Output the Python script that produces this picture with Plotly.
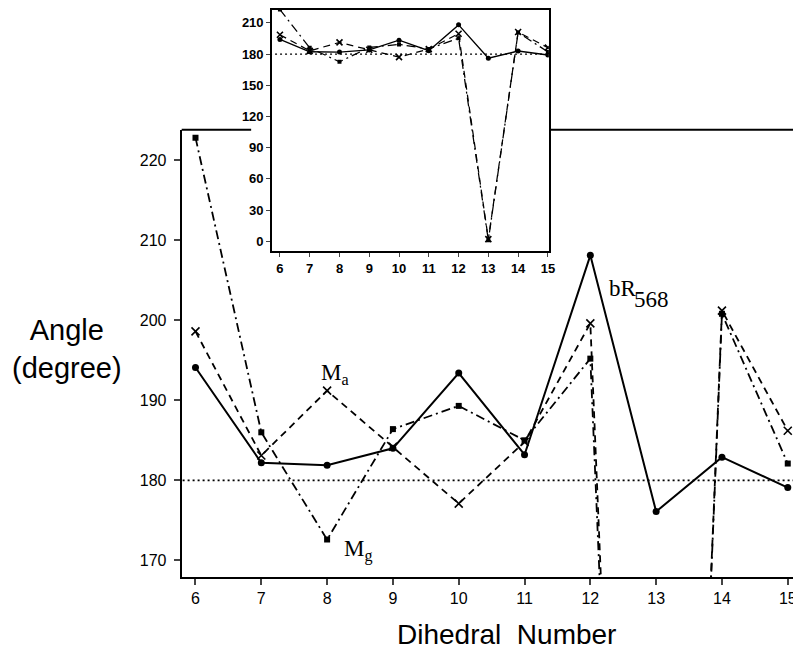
import plotly.graph_objects as go

# page body has an 8px default margin, so the figure is sized to fit the window
OFF = 8
W, H = 801 - OFF, 656 - OFF

dihedral = [6, 7, 8, 9, 10, 11, 12, 13, 14, 15]
bR568 = [194.1, 182.2, 181.9, 184.0, 193.4, 183.2, 208.1, 176.1, 182.9, 179.1]
Ma = [198.6, 183.1, 191.2, 184.2, 177.1, 184.8, 199.6, 2.0, 201.2, 186.2]
Mg = [222.8, 186.0, 172.6, 186.4, 189.3, 185.0, 195.2, 1.0, 200.8, 182.1]
reference = 180

main_yticks = [170, 180, 190, 200, 210, 220]
inset_yticks = [0, 30, 60, 90, 120, 150, 180, 210]

def px_x(p):
    return (p - OFF) / W

def px_y(p):
    return 1 - (p - OFF) / H

fig = go.Figure()

def add_series(xa, ya, lw, ms):
    fig.add_trace(go.Scatter(x=dihedral, y=bR568, mode="lines+markers", xaxis=xa, yaxis=ya,
                             line=dict(color="black", width=lw),
                             marker=dict(symbol="circle", size=ms, color="black"),
                             showlegend=False, cliponaxis=True))
    fig.add_trace(go.Scatter(x=dihedral, y=Ma, mode="lines+markers", xaxis=xa, yaxis=ya,
                             line=dict(color="black", width=lw * 0.9, dash="7px,5px"),
                             marker=dict(symbol="x-thin", size=ms + 1,
                                         line=dict(color="black", width=1.6)),
                             showlegend=False, cliponaxis=True))
    fig.add_trace(go.Scatter(x=dihedral, y=Mg, mode="lines+markers", xaxis=xa, yaxis=ya,
                             line=dict(color="black", width=lw * 0.9, dash="9px,4px,2px,4px"),
                             marker=dict(symbol="square", size=ms - 1, color="black"),
                             showlegend=False, cliponaxis=True))
    fig.add_trace(go.Scatter(x=[5.5, 15.5], y=[reference, reference], mode="lines",
                             xaxis=xa, yaxis=ya,
                             line=dict(color="black", width=lw * 0.9, dash="2px,3px"),
                             showlegend=False, hoverinfo="skip"))

add_series("x", "y", 2.0, 7)
add_series("x2", "y2", 1.4, 5)

tickfont_main = dict(family="Liberation Sans", size=16, color="black")
tickfont_inset = dict(family="Liberation Sans", size=13, color="black", weight="bold")
label_font = dict(family="Liberation Serif", size=23, color="black")

fig.update_layout(
    width=W, height=H,
    margin=dict(l=0, r=0, t=0, b=0),
    paper_bgcolor="white", plot_bgcolor="white",
    xaxis=dict(domain=[px_x(183), 1.0], range=[5.79, 15.11],
               tickvals=dihedral, ticks="outside", ticklen=6, tickwidth=1.5,
               showline=True, linecolor="black", linewidth=2, showgrid=False,
               zeroline=False, tickfont=tickfont_main, anchor="y"),
    yaxis=dict(domain=[px_y(577), px_y(128)], range=[167.9, 223.8],
               tickvals=main_yticks, ticks="outside", ticklen=6, tickwidth=1.5,
               showline=True, linecolor="black", linewidth=2, showgrid=False,
               zeroline=False, tickfont=tickfont_main, anchor="x",
               ticklabelstandoff=4),
    xaxis2=dict(domain=[px_x(274), px_x(553)], range=[5.733, 15.033],
                tickvals=dihedral, ticks="outside", ticklen=4, tickwidth=1.2,
                showline=True, mirror=True, linecolor="black", linewidth=1.6,
                showgrid=False, zeroline=False, tickfont=tickfont_inset, anchor="y2"),
    yaxis2=dict(domain=[px_y(250), px_y(8)], range=[-9.6, 222.4],
                tickvals=inset_yticks, ticks="outside", ticklen=4, tickwidth=1.2,
                showline=True, mirror=True, linecolor="black", linewidth=1.6,
                showgrid=False, zeroline=False, tickfont=tickfont_inset, anchor="x2"),
    shapes=[
        dict(type="line", xref="paper", yref="paper",
             x0=px_x(183), x1=px_x(253), y0=px_y(128), y1=px_y(128),
             line=dict(color="black", width=2)),
        dict(type="line", xref="paper", yref="paper",
             x0=px_x(555), x1=1.0, y0=px_y(128), y1=px_y(128),
             line=dict(color="black", width=2)),
    ],
    annotations=[
        dict(text="Angle<br>(degree)", xref="paper", yref="paper",
             x=px_x(67), y=px_y(348), showarrow=False,
             font=dict(family="Liberation Sans", size=29, color="black"),
             xanchor="center", yanchor="middle"),
        dict(text="Dihedral&nbsp;&nbsp;Number", xref="paper", yref="paper",
             x=px_x(510), y=px_y(634), showarrow=False,
             font=dict(family="Liberation Sans", size=28, color="black"),
             xanchor="center", yanchor="middle"),
        dict(text="M<sub>a</sub>", xref="x", yref="y", x=8.12, y=191.3,
             showarrow=False, xanchor="center", yanchor="bottom", font=label_font),
        dict(text="M<sub>g</sub>", xref="x", yref="y", x=8.22, y=169.2,
             showarrow=False, xanchor="left", yanchor="bottom", font=label_font),
        dict(text="bR", xref="x", yref="y", x=12.26, y=202.2,
             showarrow=False, xanchor="left", yanchor="bottom", font=label_font),
        dict(text="568", xref="x", yref="y", x=12.63, y=200.8,
             showarrow=False, xanchor="left", yanchor="bottom", font=label_font),
    ],
)

fig.write_html("out.html")
